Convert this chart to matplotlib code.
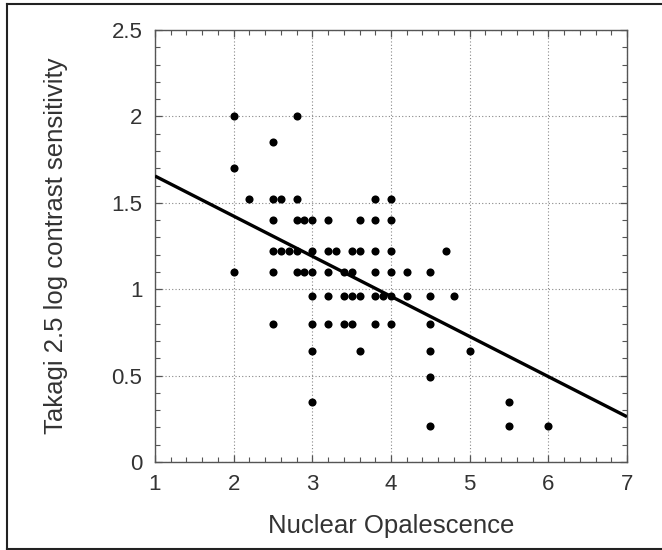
import matplotlib
matplotlib.use("Agg")
import matplotlib.pyplot as plt
from matplotlib.lines import Line2D
from matplotlib.ticker import MultipleLocator

# opalescence grade and contrast sensitivity
rows = {
    2.00: [2.0, 2.8],
    1.85: [2.5],
    1.70: [2.0],
    1.52: [2.2, 2.5, 2.6, 2.8, 3.8, 4.0],
    1.40: [2.5, 2.8, 2.9, 3.0, 3.2, 3.6, 3.8, 4.0],
    1.22: [2.5, 2.6, 2.7, 2.8, 3.0, 3.2, 3.3, 3.5, 3.6, 3.8, 4.0, 4.7],
    1.10: [2.0, 2.5, 2.8, 2.9, 3.0, 3.2, 3.4, 3.5, 3.8, 4.0, 4.2, 4.5],
    0.96: [3.0, 3.2, 3.4, 3.5, 3.6, 3.8, 3.9, 4.0, 4.2, 4.5, 4.8],
    0.80: [2.5, 3.0, 3.2, 3.4, 3.5, 3.8, 4.0, 4.5],
    0.64: [3.0, 3.6, 4.5, 5.0],
    0.49: [4.5],
    0.35: [3.0, 5.5],
    0.21: [4.5, 5.5, 6.0],
}
opalescence = [x for y, xs in rows.items() for x in xs]
sensitivity = [y for y, xs in rows.items() for x in xs]

# regression line end points
fit_x = [1, 7]
fit_y = [1.655, 0.262]

x_ticks = [1, 2, 3, 4, 5, 6, 7]
y_ticks = [0, 0.5, 1, 1.5, 2, 2.5]
y_tick_labels = ["0", "0.5", "1", "1.5", "2", "2.5"]

plt.rcParams["font.family"] = ["Liberation Sans", "DejaVu Sans"]
text_color = "#333333"
spine_color = "#555555"

fig = plt.figure(figsize=(6.62, 5.5), dpi=100)
ax = fig.add_axes([155 / 662, 1 - 462 / 550, 472 / 662, 432 / 550])

ax.scatter(opalescence, sensitivity, s=34, color="black", zorder=3, linewidths=0)
ax.plot(fit_x, fit_y, color="black", lw=2.4, zorder=4, solid_capstyle="butt")

ax.set_xlim(1, 7)
ax.set_ylim(0, 2.5)
ax.set_xticks(x_ticks)
ax.set_yticks(y_ticks)
ax.set_yticklabels(y_tick_labels)
ax.xaxis.set_minor_locator(MultipleLocator(0.2))
ax.yaxis.set_minor_locator(MultipleLocator(0.1))
ax.tick_params(which="both", direction="in", top=True, right=True, color=spine_color)
ax.tick_params(which="major", length=5, width=0.9, labelsize=16, labelcolor=text_color, pad=9)
ax.tick_params(which="minor", length=3.5, width=0.8)
ax.grid(True, which="major", color="#888888", linestyle=(0, (1, 2)), lw=0.8)
for spine in ax.spines.values():
    spine.set_color(spine_color)
    spine.set_linewidth(1.0)

ax.set_xlabel("Nuclear Opalescence", fontsize=18.5, color=text_color, labelpad=13)
ax.set_ylabel("Takagi 2.5 log contrast sensitivity", fontsize=18.5, color=text_color, labelpad=31)

# frame around the figure (no right edge in the source)
frame_kw = dict(color="#222222", lw=1.5, transform=fig.transFigure)
fig.add_artist(Line2D([6.5 / 662, 1], [1 - 3.5 / 550] * 2, **frame_kw))
fig.add_artist(Line2D([6.5 / 662, 1], [1 - 548.5 / 550] * 2, **frame_kw))
fig.add_artist(Line2D([6.5 / 662] * 2, [1 - 3.5 / 550, 1 - 548.5 / 550], **frame_kw))

fig.savefig("out.png", dpi=100)
